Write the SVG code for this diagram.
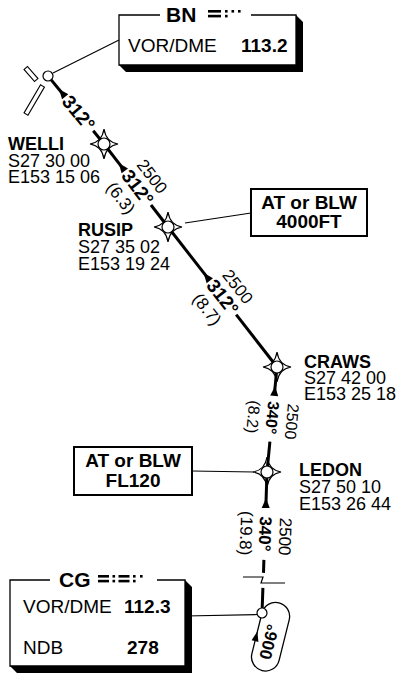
<svg xmlns="http://www.w3.org/2000/svg" width="400" height="673" viewBox="0 0 400 673">
<style>
text{font-family:"Liberation Sans",Arial,Helvetica,sans-serif;fill:#000}
.b{font-weight:bold}
.lbl{font-size:18px}
.box{font-size:19px}
.ttl{font-size:21px;font-weight:bold}
.route{stroke:#000;stroke-width:3;fill:none}
.thin{stroke:#000;stroke-width:1.2;fill:none}
.frame{stroke:#000;stroke-width:1.3;fill:none}
.altbox{stroke:#000;stroke-width:2;fill:#fff}
.wp{fill:none;stroke:#000;stroke-width:1.2}
.ctr{fill:#fff;stroke:#000;stroke-width:1.2}
.bar{fill:#fff;stroke:#000;stroke-width:1.1}
.arr{fill:#000}
.brg{font-size:19px;font-weight:bold}
.brg2{font-size:16px;font-weight:bold}
.brg3{font-size:17px;font-weight:bold}
.alt{font-size:17px}
.alt2{font-size:16px}
.mid{text-anchor:middle;dominant-baseline:central}
</style>
<defs>
<path id="star" d="M0,-15 Q2,-2 14,0 Q2,2 0,15 Q-2,2 -14,0 Q-2,-2 0,-15Z"/>
</defs>

<g id="connectors">
  <line class="thin" x1="53" y1="73" x2="119" y2="40"/>
  <line class="thin" x1="185" y1="223" x2="251" y2="213"/>
  <line class="thin" x1="192" y1="471" x2="254" y2="472"/>
  <line class="thin" x1="185" y1="616" x2="257.5" y2="614.5"/>

  <line class="route" x1="51.2" y1="79.9" x2="61.4" y2="92.3"/>
  <polygon class="arr" points="58.8,89.1 68.3,94.3 62.1,99.3"/>
  <text class="brg mid" transform="translate(78.5,113.1) rotate(50.5)">312°</text>
  <line class="route" x1="93.2" y1="130.8" x2="104" y2="144"/>

  <line class="route" x1="104" y1="144" x2="121.1" y2="166.2"/>
  <polygon class="arr" points="118.7,163.0 128.0,168.5 121.6,173.3"/>
  <text class="brg mid" transform="translate(137.6,187.6) rotate(52.4)">312°</text>
  <text class="alt mid" transform="translate(151.9,176.6) rotate(52.4)">2500</text>
  <text class="alt mid" transform="translate(120.6,198.2) rotate(52.4)">(6.3)</text>
  <line class="route" x1="151.0" y1="205.0" x2="168" y2="227"/>

  <line class="route" x1="168" y1="227" x2="206.1" y2="275.9"/>
  <polygon class="arr" points="203.6,272.8 213.0,278.2 206.6,283.2"/>
  <text class="brg mid" transform="translate(222.6,297.2) rotate(52.1)">312°</text>
  <text class="alt mid" transform="translate(237.5,286.9) rotate(52.1)">2500</text>
  <text class="alt mid" transform="translate(206.8,309.5) rotate(52.1)">(8.7)</text>
  <line class="route" x1="236.2" y1="314.6" x2="277" y2="367"/>

  <line class="route" x1="277" y1="367" x2="274.8" y2="389.9"/>
  <polygon class="arr" points="275.2,385.9 278.2,396.3 270.2,395.5"/>
  <text class="brg2 mid" transform="translate(272.2,417.7) rotate(95.4)">340°</text>
  <text class="alt2 mid" transform="translate(291.9,421.6) rotate(95.4)">2500</text>
  <text class="alt2 mid" transform="translate(253.2,416.9) rotate(95.4)">(8.2)</text>
  <line class="route" x1="269.9" y1="441.6" x2="267" y2="472"/>

  <line class="route" x1="267" y1="472" x2="266.0" y2="502.0"/>
  <polygon class="arr" points="266.1,498.0 269.7,508.1 261.7,507.9"/>
  <text class="brg3 mid" transform="translate(264.8,533.9) rotate(92)">340°</text>
  <text class="alt mid" transform="translate(284.8,536.6) rotate(92)">2500</text>
  <text class="alt mid" transform="translate(245.8,533.2) rotate(92)">(19.8)</text>
  <line class="route" x1="263.9" y1="559.9" x2="263.5" y2="572.9"/>
  <path class="thin" d="M243,577 L263,577 L261,583 L285,583"/>
  <line class="route" x1="262.9" y1="587.9" x2="262.2" y2="608"/>

  <path class="frame" d="M262,613 L251.9,653.6 A14,14 0 0 0 279.1,660.4 L289.2,619.8 A14,14 0 0 0 262,613 Z"/>
  <polygon class="arr" points="257.4,631.4 258.4,641.9 251.6,640.3"/>
  <text class="brg3 mid" transform="translate(269.5,642) rotate(-76)">006°</text>
</g>

<g id="bn-box">
  <polygon points="296,15 303,22 303,72 126,72 119,65 296,65" fill="#000"/>
  <path class="frame" d="M160,15 H119 V65 H296 V15 H251"/>
  <text class="ttl" x="166" y="22">BN</text>
  <g fill="#000">
    <rect x="208" y="10" width="13" height="2.6"/>
    <rect x="208" y="14.8" width="13" height="2.6"/>
    <rect x="225" y="10" width="2.6" height="2.6"/>
    <rect x="225" y="14.8" width="2.6" height="2.6"/>
    <rect x="231.5" y="10" width="2.6" height="2.6"/>
    <rect x="238" y="10" width="2.6" height="2.6"/>
  </g>
  <text class="box" x="128" y="52">VOR/DME</text>
  <text class="box b" x="241" y="52">113.2</text>
</g>

<g id="bn-vor">
  <rect class="bar" x="-8" y="-2.25" width="16" height="4.5" transform="translate(31,74) rotate(49)"/>
  <rect class="bar" x="-16.25" y="-2.25" width="32.5" height="4.5" transform="translate(34.25,100) rotate(120.5)"/>
  <circle class="ctr" cx="48" cy="76" r="5"/>
</g>

<g id="welli">
  <use href="#star" class="wp" x="104" y="144"/>
  <circle class="ctr" cx="104" cy="144" r="6"/>
  <text class="lbl b" x="8" y="150">WELLI</text>
  <text class="lbl" x="8" y="167">S27 30 00</text>
  <text class="lbl" x="8" y="183">E153 15 06</text>
</g>

<g id="rusip">
  <use href="#star" class="wp" x="168" y="227"/>
  <circle class="ctr" cx="168" cy="227" r="6"/>
  <text class="lbl b" x="78" y="236">RUSIP</text>
  <text class="lbl" x="78" y="253">S27 35 02</text>
  <text class="lbl" x="78" y="270">E153 19 24</text>
</g>

<g id="rusip-alt">
  <rect class="altbox" x="251" y="189" width="116" height="47"/>
  <text class="box b" x="309" y="209" text-anchor="middle">AT or BLW</text>
  <text class="box b" x="309" y="228" text-anchor="middle">4000FT</text>
</g>

<g id="craws">
  <use href="#star" class="wp" x="277" y="367"/>
  <circle class="ctr" cx="277" cy="367" r="6"/>
  <text class="lbl b" x="304" y="368">CRAWS</text>
  <text class="lbl" x="304" y="384">S27 42 00</text>
  <text class="lbl" x="304" y="400">E153 25 18</text>
</g>

<g id="ledon">
  <use href="#star" class="wp" x="267" y="472"/>
  <circle class="ctr" cx="267" cy="472" r="6"/>
  <text class="lbl b" x="299" y="476">LEDON</text>
  <text class="lbl" x="299" y="493">S27 50 10</text>
  <text class="lbl" x="299" y="510">E153 26 44</text>
</g>

<g id="ledon-alt">
  <rect class="altbox" x="74" y="447" width="118" height="48"/>
  <text class="box b" x="133" y="467" text-anchor="middle">AT or BLW</text>
  <text class="box b" x="133" y="487" text-anchor="middle">FL120</text>
</g>

<g id="cg-box">
  <polygon points="185,580 192,587 192,673 17,673 10,666 185,666" fill="#000"/>
  <path class="frame" d="M50,580 H10 V666 H185 V580 H157"/>
  <text class="ttl" x="59" y="587">CG</text>
  <g fill="#000">
    <rect x="98" y="575" width="11" height="2.6"/>
    <rect x="98" y="579.8" width="11" height="2.6"/>
    <rect x="112.5" y="575" width="2.6" height="2.6"/>
    <rect x="112.5" y="579.8" width="2.6" height="2.6"/>
    <rect x="118.5" y="575" width="11" height="2.6"/>
    <rect x="118.5" y="579.8" width="11" height="2.6"/>
    <rect x="133" y="575" width="2.6" height="2.6"/>
    <rect x="133" y="579.8" width="2.6" height="2.6"/>
    <rect x="140" y="575" width="2.6" height="2.6"/>
  </g>
  <text class="box" x="23" y="613">VOR/DME</text>
  <text class="box b" x="124" y="613">112.3</text>
  <text class="box" x="23" y="654">NDB</text>
  <text class="box b" x="127" y="654">278</text>
</g>

<g id="cg-vor">
  <circle class="ctr" cx="262" cy="613" r="5"/>
</g>
</svg>
